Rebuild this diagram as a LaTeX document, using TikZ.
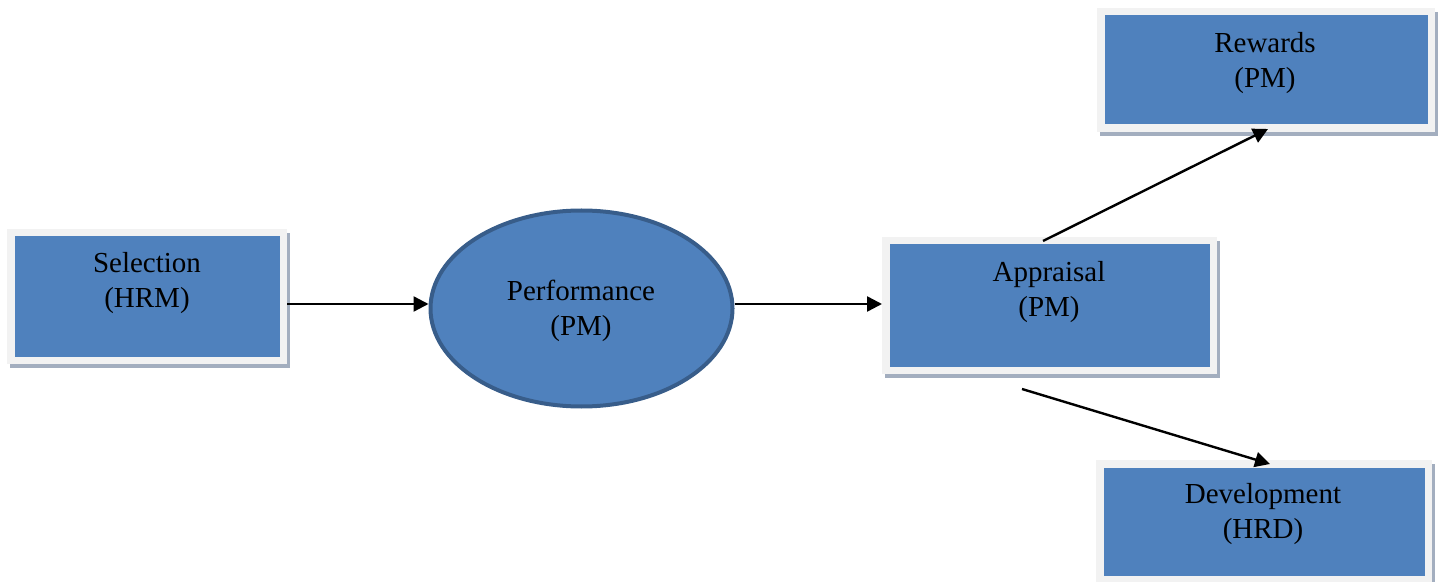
\documentclass[tikz,border=0pt]{standalone}
\usepackage{fontspec}
\setmainfont{Liberation Serif}
\usetikzlibrary{arrows.meta,shapes.geometric,backgrounds}
\definecolor{boxblue}{HTML}{4F81BD}
\definecolor{framegray}{HTML}{F2F2F2}
\definecolor{edgeblue}{HTML}{385D8A}
\definecolor{shadowgray}{HTML}{A3AEBF}
\begin{document}
\begin{tikzpicture}[x=0.5pt,y=-0.5pt,
  framebox/.style={rectangle, draw=framegray, line width=3.75pt, fill=boxblue, inner sep=0pt},
  oval/.style={ellipse, draw=edgeblue, line width=2pt, fill=boxblue, inner sep=0pt},
  lbl/.style={align=center, inner sep=0pt, font=\fontsize{14.5}{17.5}\selectfont},
  conn/.style={line width=1.2pt, -{Triangle[length=7.5pt,width=7.5pt]}},
  shadowfill/.style={fill=shadowgray}]
\useasboundingbox (0,0) rectangle (1443,582);
% boxes
\node[framebox, minimum width=136.25pt, minimum height=63.75pt] (sel) at (147,296.5) {};
\node[framebox, minimum width=163.75pt, minimum height=64.75pt] (appr) at (1049.5,305.5) {};
\node[framebox, minimum width=165.25pt, minimum height=58.25pt] (rew) at (1266,70) {};
\node[framebox, minimum width=164.25pt, minimum height=57.75pt] (dev) at (1264,521.5) {};
\node[oval, minimum width=151pt, minimum height=98pt] (perf) at (581.5,308.5) {};
% shadows
\begin{scope}[on background layer]
  \foreach \b in {sel,appr,rew,dev}{
    \fill[shadowfill] ([shift={(1.5pt,-2pt)}]\b.south west) rectangle ([shift={(1.5pt,-2pt)}]\b.north east);
  }
\end{scope}
% labels
\node[lbl] (selT) at (147,283.5) {Selection\\(HRM)};
\node[lbl] (perfT) at (581,311) {Performance\\(PM)};
\node[lbl] (apprT) at (1049,292) {Appraisal\\(PM)};
\node[lbl] (rewT) at (1265,63.5) {Rewards\\(PM)};
\node[lbl] (devT) at (1263,514.5) {Development\\(HRD)};
% connectors
\draw[conn] ([yshift=-3.75pt]sel.east) -- ([yshift=2.25pt]perf.west);
\draw[conn] ([yshift=2.25pt]perf.east) -- ([yshift=0.75pt]appr.west);
\draw[conn] ([shift={(-3.25pt,-2pt)}]appr.north) -- ([shift={(1pt,1.5pt)}]rew.south);
\draw[conn] ([shift={(-13.75pt,-7.5pt)}]appr.south) -- ([shift={(3pt,-2pt)}]dev.north);
\end{tikzpicture}
\end{document}
